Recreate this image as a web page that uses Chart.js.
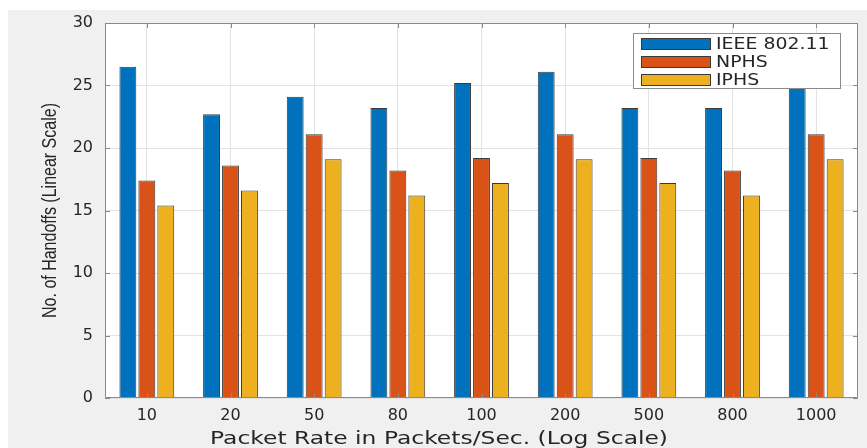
<!DOCTYPE html>
<html>
<head>
<meta charset="utf-8">
<script src="https://cdn.jsdelivr.net/npm/chart.js@4/dist/chart.umd.min.js"></script>
<style>
  html, body { margin: 0; padding: 0; background: #ffffff; }
  canvas { display: block; }
</style>
</head>
<body>
<canvas id="chart" width="867" height="448"></canvas>
<script>
// Packet rates (one group of bars per rate)
const categories = ['10', '20', '50', '80', '100', '200', '500', '800', '1000'];

// Number of handoffs for each scheme
const ieeeValues = [26.5, 22.7, 24.1, 23.2, 25.2, 26.1, 23.2, 23.2, 26.1];
const nphsValues = [17.4, 18.6, 21.1, 18.2, 19.2, 21.1, 19.2, 18.2, 21.1];
const iphsValues = [15.4, 16.6, 19.1, 16.2, 17.2, 19.1, 17.2, 16.2, 19.1];

const seriesNames = ['IEEE 802.11', 'NPHS', 'IPHS'];
const seriesColors = ['#0072BD', '#D95319', '#EDB120'];

const yMin = 0, yMax = 30, yStep = 5;
const xTitle = 'Packet Rate in Packets/Sec. (Log Scale)';
const yTitle = 'No. of Handoffs (Linear Scale)';

const axisColor = '#8a8a8a';
const textColor = '#262626';

// Figure background, white axes box
const backgroundPlugin = {
  id: 'figureBackground',
  beforeDraw(chart) {
    const { ctx, width, height, chartArea: a } = chart;
    ctx.save();
    ctx.fillStyle = '#ffffff';
    ctx.fillRect(0, 0, width, height);
    ctx.fillStyle = '#f0f0f0';
    ctx.fillRect(8, 10, width - 8, height - 10);
    ctx.fillStyle = '#ffffff';
    ctx.fillRect(a.left, a.top, a.right - a.left, a.bottom - a.top);
    ctx.restore();
  }
};

// Axes box with inward tick marks, axis titles and boxed legend
const boxPlugin = {
  id: 'axesBox',
  afterDatasetsDraw(chart) {
    const { ctx, chartArea: a, scales } = chart;
    ctx.save();
    ctx.strokeStyle = axisColor;
    ctx.lineWidth = 1;
    ctx.beginPath();
    ctx.rect(Math.round(a.left) + 0.5, Math.round(a.top) + 0.5,
             Math.round(a.right - a.left) - 1, Math.round(a.bottom - a.top) - 1);
    ctx.stroke();

    const tl = 5;
    ctx.beginPath();
    scales.y.ticks.forEach((t, i) => {
      const py = Math.round(scales.y.getPixelForTick(i)) + 0.5;
      ctx.moveTo(a.left, py); ctx.lineTo(a.left + tl, py);
      ctx.moveTo(a.right, py); ctx.lineTo(a.right - tl, py);
    });
    scales.x.ticks.forEach((t, i) => {
      const px = Math.round(scales.x.getPixelForTick(i)) + 0.5;
      ctx.moveTo(px, a.bottom); ctx.lineTo(px, a.bottom - tl);
      ctx.moveTo(px, a.top); ctx.lineTo(px, a.top + tl);
    });
    ctx.stroke();
    ctx.restore();
  },
  afterDraw(chart) {
    const { ctx, chartArea: a } = chart;

    // x-axis title
    ctx.save();
    ctx.font = '18px "DejaVu Sans"';
    ctx.fillStyle = textColor;
    ctx.textBaseline = 'middle';
    ctx.textAlign = 'left';
    const w = ctx.measureText(xTitle).width;
    ctx.translate(210, 439);
    ctx.scale(458 / w, 1);
    ctx.fillText(xTitle, 0, 0);
    ctx.restore();

    // y-axis title, rotated, with slightly widened glyphs
    ctx.save();
    ctx.font = '16px "Liberation Sans"';
    ctx.fillStyle = textColor;
    ctx.textBaseline = 'middle';
    ctx.textAlign = 'center';
    ctx.translate(50, (a.top + a.bottom) / 2);
    ctx.rotate(-Math.PI / 2);
    ctx.scale(1, 1.3);
    ctx.fillText(yTitle, 0, 0);
    ctx.restore();

    // legend
    const lx = 633, ly = 33, lw = 208, lh = 56;
    ctx.save();
    ctx.fillStyle = '#ffffff';
    ctx.fillRect(lx, ly, lw, lh);
    ctx.strokeStyle = '#8a8a8a';
    ctx.lineWidth = 1;
    ctx.strokeRect(lx + 0.5, ly + 0.5, lw - 1, lh - 1);
    chart.data.datasets.forEach((ds, i) => {
      const cy = 44 + i * 18;
      ctx.fillStyle = ds.backgroundColor;
      ctx.fillRect(641, cy - 6, 70, 12);
      ctx.strokeStyle = '#3a3a3a';
      ctx.strokeRect(641.5, cy - 5.5, 69, 11);
      ctx.save();
      ctx.font = '15px "DejaVu Sans"';
      ctx.fillStyle = textColor;
      ctx.textBaseline = 'middle';
      ctx.translate(716, cy + 1);
      ctx.scale(1.26, 1);
      ctx.fillText(ds.label, 0, 0);
      ctx.restore();
    });
    ctx.restore();
  }
};

const seriesData = [ieeeValues, nphsValues, iphsValues];

new Chart(document.getElementById('chart'), {
  type: 'bar',
  data: {
    labels: categories,
    datasets: seriesData.map((vals, i) => ({
      label: seriesNames[i],
      data: vals,
      backgroundColor: seriesColors[i],
      borderColor: '#3a3a3a',
      borderWidth: 1,
      categoryPercentage: 0.68,
      barPercentage: 0.89
    }))
  },
  options: {
    responsive: false,
    devicePixelRatio: 1,
    animation: false,
    layout: { padding: { left: 0, right: 9, top: 23, bottom: 0 } },
    plugins: {
      legend: { display: false },
      tooltip: { enabled: false }
    },
    scales: {
      x: {
        grid: { offset: false, drawTicks: false, color: '#e3e3e3', lineWidth: 1 },
        border: { display: false },
        ticks: {
          color: textColor,
          font: { family: 'DejaVu Sans', size: 16 },
          padding: 8
        },
        afterFit(scale) { scale.height = 50; }
      },
      y: {
        min: yMin,
        max: yMax,
        grid: { drawTicks: false, color: '#e3e3e3', lineWidth: 1 },
        border: { display: false },
        ticks: {
          stepSize: yStep,
          color: textColor,
          font: { family: 'DejaVu Sans', size: 16 },
          padding: 12
        },
        afterFit(scale) { scale.width = 105; }
      }
    }
  },
  plugins: [backgroundPlugin, boxPlugin]
});
</script>
</body>
</html>
